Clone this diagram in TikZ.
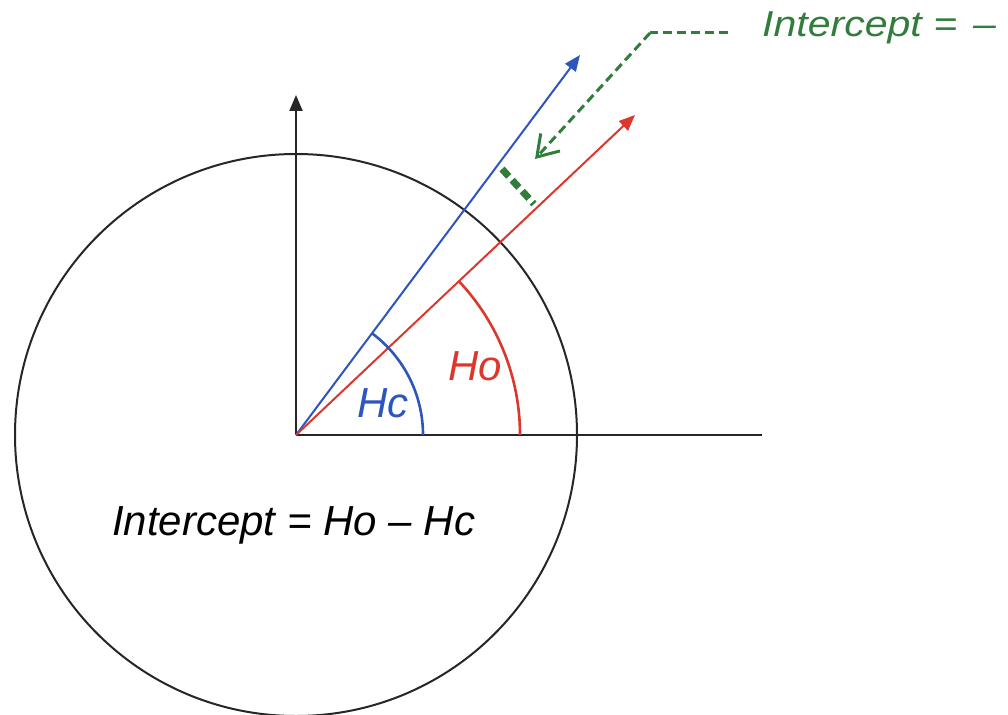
\documentclass[tikz,border=0pt]{standalone}
\usepackage{fontspec}
\setmainfont{Liberation Sans}
\usetikzlibrary{arrows.meta}
\definecolor{myblue}{RGB}{45,85,190}
\definecolor{myred}{RGB}{220,55,45}
\definecolor{mygreen}{RGB}{50,125,60}
\tikzset{
  thinline/.style={line width=2pt},
  tip/.style={-{Triangle[length=16pt,width=13pt]}},
  lbl/.style={inner sep=0pt,anchor=base west,font=\fontsize{42}{50}\selectfont\itshape},
  glbl/.style={inner sep=0pt,anchor=base west,font=\fontsize{36}{44}\selectfont\itshape},
  gdash/.style={mygreen,line width=3pt,dash pattern=on 9pt off 5pt},
  gmark/.style={mygreen,line width=7pt,dash pattern=on 10pt off 5pt},
}
\begin{document}
\begin{tikzpicture}[x=1pt,y=1pt]
\useasboundingbox (0,0) rectangle (1008,-714);
\coordinate (O) at (296,-435);
\coordinate (Vtop) at (296,-95);
\coordinate (Hend) at (762,-435);
\coordinate (Btip) at (580,-55);
\coordinate (Rtip) at (635,-115);
\coordinate (Gcorner) at (650,-33);
\coordinate (Gend) at (728,-33);
\coordinate (Gtip) at (535,-159);
\coordinate (M1) at (502,-169);
\coordinate (M2) at (534,-204);
% circle
\draw[thinline,black!85] (O) circle[radius=281];
% axes
\draw[thinline,black!85,tip] (O) -- (Vtop);
\draw[thinline,black!85] (O) -- (Hend);
% lines
\draw[thinline,myblue,tip] (O) -- (Btip);
\draw[thinline,myred,tip] (O) -- (Rtip);
% arcs
\draw[line width=2.6pt,myblue] ([shift={(0:127)}]O) arc[start angle=0,end angle=53.2,radius=127];
\draw[line width=2.6pt,myred] ([shift={(0:224)}]O) arc[start angle=0,end angle=43.3,radius=224];
% green
\draw[gdash] (Gend) -- (Gcorner);
\draw[gdash,-{Straight Barb[length=20pt,width=26pt,line width=3pt]}] (Gcorner) -- (Gtip);
\draw[gmark] (M1) -- (M2);
% labels
\node[lbl,myblue] (hc) at (357,-417) {Hc};
\node[lbl,myred] (ho) at (448,-380) {Ho};
\node[lbl,black] (eq) at (112,-535) {Intercept = Ho – Hc};
\node[glbl,mygreen] (geq) at (762,-37) {\scalebox{1.14}[1]{Intercept = \hspace{4pt}–}};
\end{tikzpicture}
\end{document}
